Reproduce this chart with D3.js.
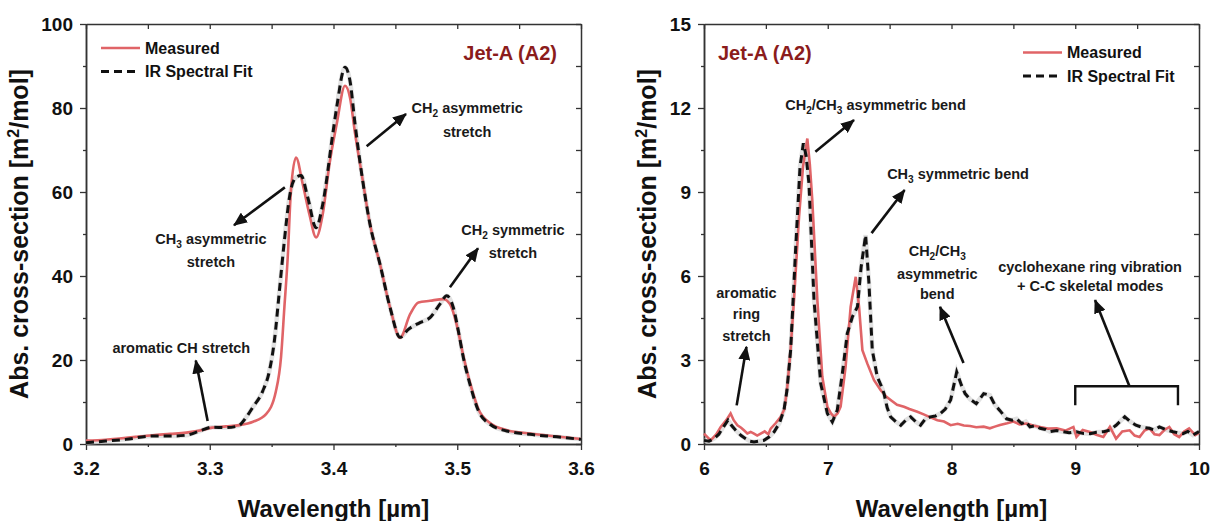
<!DOCTYPE html>
<html>
<head>
<meta charset="utf-8">
<script src="https://cdn.jsdelivr.net/npm/d3@7"></script>
<style>
  body { margin: 0; background: #fff; }
  svg text { font-family: "Liberation Sans", Arial, sans-serif; font-weight: bold; }
</style>
</head>
<body>
<svg id="chart" width="1212" height="521"></svg>
<script>
// ---- data ----
const seriesNames = ["Measured", "IR Spectral Fit"];
const sampleLabel = "Jet-A (A2)";

// C-H stretch region, 3.2 - 3.6 um
const chMeasuredX = [3.200,3.216,3.227,3.240,3.254,3.268,3.281,3.292,3.302,3.313,3.324,3.335,3.3455,3.3535,3.3576,3.3603,3.363,3.3656,3.3697,3.3751,3.3805,3.3859,3.3913,3.3967,3.4026,3.4093,3.4133,3.4174,3.4228,3.4295,3.4376,3.4457,3.4538,3.4619,3.4686,3.478,3.4888,3.4941,3.4995,3.5049,3.5103,3.5171,3.5265,3.540,3.5588,3.5804,3.600];
const chMeasuredY = [0.8,1.0,1.3,1.7,2.1,2.4,2.7,3.2,3.9,4.2,4.5,5.3,7.1,12.6,20.7,32.5,44.4,60.3,68.2,61.9,54.7,49.2,54.7,66.6,76.2,85.3,82.5,74.0,64.3,52.3,42.8,32.5,25.3,30.9,33.7,34.1,34.5,33.3,28.5,21.0,14.6,8.3,5.0,3.3,2.5,1.8,1.2];
const chFitX = [3.200,3.216,3.232,3.254,3.270,3.281,3.292,3.302,3.313,3.323,3.3293,3.3347,3.3428,3.3482,3.3522,3.3563,3.3603,3.3644,3.3697,3.3738,3.3792,3.3859,3.3913,3.3994,3.4026,3.4093,3.4133,3.4174,3.4228,3.4295,3.4376,3.4457,3.4538,3.4605,3.4699,3.478,3.486,3.4915,3.4968,3.5009,3.5049,3.5103,3.5171,3.5265,3.540,3.5588,3.5804,3.600];
const chFitY = [0.3,0.7,1.1,1.9,1.9,2.1,3.1,4.0,3.9,4.3,6.3,8.7,12.6,17.4,24.5,36.5,48.4,58.7,63.5,63.9,58.7,51.5,57.1,73.8,80.2,89.7,86.5,76.2,64.3,52.3,42.8,32.5,25.4,27.3,28.9,30.1,33.3,35.3,32.5,26.9,20.6,14.2,7.9,4.7,3.1,2.3,1.7,1.1];

// fingerprint region, 6 - 10 um
const fpMeasuredX = [6.000,6.054,6.100,6.135,6.180,6.215,6.240,6.270,6.300,6.323,6.350,6.377,6.404,6.430,6.458,6.490,6.520,6.539,6.580,6.620,6.650,6.673,6.700,6.727,6.768,6.800,6.835,6.855,6.875,6.916,6.956,6.997,7.025,7.050,7.080,7.104,7.144,7.185,7.226,7.253,7.280,7.320,7.374,7.428,7.470,7.508,7.560,7.616,7.660,7.724,7.780,7.830,7.886,7.940,7.993,8.050,8.100,8.150,8.200,8.260,8.310,8.350,8.392,8.450,8.500,8.550,8.607,8.660,8.715,8.780,8.850,8.920,8.985,9.010,9.060,9.120,9.170,9.227,9.280,9.330,9.380,9.440,9.480,9.520,9.560,9.600,9.640,9.680,9.720,9.760,9.800,9.840,9.880,9.920,9.970,10.000];
const fpMeasuredY = [0.37,0.13,0.35,0.61,0.85,1.09,0.85,0.67,0.58,0.49,0.38,0.43,0.37,0.30,0.37,0.45,0.35,0.55,0.75,0.97,1.25,2.04,3.4,5.14,8.11,9.9,10.91,10.0,8.71,5.14,2.40,1.33,1.10,0.97,1.10,1.33,2.75,4.90,5.97,4.90,3.35,2.87,2.28,1.92,1.70,1.57,1.40,1.33,1.25,1.15,1.05,0.95,0.85,0.80,0.67,0.72,0.66,0.64,0.60,0.62,0.56,0.62,0.68,0.74,0.80,0.70,0.73,0.66,0.61,0.55,0.56,0.48,0.61,0.25,0.50,0.43,0.33,0.25,0.61,0.19,0.45,0.49,0.30,0.25,0.48,0.56,0.35,0.32,0.50,0.61,0.35,0.25,0.45,0.56,0.32,0.40];
const fpFitX = [6.000,6.040,6.080,6.120,6.148,6.194,6.225,6.256,6.300,6.337,6.370,6.404,6.440,6.485,6.525,6.566,6.610,6.646,6.670,6.700,6.740,6.776,6.803,6.825,6.848,6.889,6.943,6.997,7.037,7.077,7.118,7.158,7.200,7.240,7.270,7.306,7.333,7.360,7.400,7.430,7.455,7.480,7.508,7.550,7.590,7.630,7.670,7.710,7.750,7.790,7.830,7.870,7.910,7.950,7.993,8.042,8.080,8.110,8.150,8.200,8.260,8.310,8.350,8.390,8.445,8.490,8.526,8.567,8.600,8.634,8.675,8.715,8.760,8.796,8.850,8.900,8.950,9.010,9.060,9.120,9.170,9.230,9.280,9.330,9.400,9.445,9.490,9.540,9.600,9.640,9.680,9.740,9.790,9.830,9.870,9.910,9.950,10.000];
const fpFitY = [0.13,0.10,0.19,0.35,0.55,0.85,0.65,0.49,0.30,0.19,0.10,0.07,0.10,0.13,0.25,0.43,0.75,1.21,1.9,3.35,6.92,9.9,10.74,10.3,9.31,5.14,2.16,1.09,0.79,1.21,2.52,3.95,4.55,4.90,6.33,7.46,5.73,3.35,2.40,2.10,1.80,1.30,0.97,0.80,0.67,0.85,0.97,0.80,0.67,0.90,0.97,1.00,1.09,1.25,1.57,2.57,2.10,1.80,1.60,1.44,1.80,1.74,1.40,1.20,0.90,0.85,0.90,0.73,0.80,0.61,0.65,0.56,0.52,0.44,0.48,0.44,0.40,0.44,0.38,0.37,0.42,0.44,0.50,0.67,0.97,0.80,0.67,0.60,0.56,0.50,0.61,0.50,0.44,0.40,0.37,0.45,0.32,0.44];

// tick labels
const chXTicks = [3.2, 3.3, 3.4, 3.5, 3.6];
const chYTicks = [0, 20, 40, 60, 80, 100];
const fpXTicks = [6, 7, 8, 9, 10];
const fpYTicks = [0, 3, 6, 9, 12, 15];

// band assignments: text lines (x, y in data units) and arrow (from -> to)
const chNotes = [
  { lines: ["CH_2 asymmetric", "stretch"], x: 3.508, y: [80.0, 74.2], arrow: [3.4268, 70.9, 3.4586, 78.6] },
  { lines: ["CH_3 asymmetric", "stretch"], x: 3.301, y: [48.8, 43.4], arrow: [3.3607, 61.1, 3.3196, 52.1] },
  { lines: ["CH_2 symmetric", "stretch"], x: 3.545, y: [50.9, 45.4], arrow: [3.4941, 37.3, 3.5168, 46.6] },
  { lines: ["aromatic CH stretch"], x: 3.277, y: [22.9], arrow: [3.2983, 5.5, 3.2887, 19.9] }
];
const fpNotes = [
  { lines: ["CH_2/CH_3 asymmetric bend"], x: 7.386, y: [12.1], arrow: [6.900, 10.44, 7.212, 11.57] },
  { lines: ["CH_3 symmetric bend"], x: 8.053, y: [9.64], arrow: [7.354, 7.53, 7.621, 9.07] },
  { lines: ["CH_2/CH_3", "asymmetric", "bend"], x: 7.885, y: [6.90, 6.07, 5.35], arrow: [8.097, 2.89, 7.907, 4.9] },
  { lines: ["aromatic", "ring", "stretch"], x: 6.343, y: [5.38, 4.64, 3.87], arrow: [6.264, 1.38, 6.343, 3.47] },
  { lines: ["cyclohexane ring vibration", "+ C-C skeletal modes"], x: 9.12, y: [6.33, 5.65], arrow: [9.438, 2.06, 9.160, 5.14] }
];
// bracket over 9.0 - 9.83 um
const fpBracket = { x0: 9.0, x1: 9.83, top: 2.06, bottom: 1.38 };

class SpectrumPanel {

  constructor(_config) {
    this.config = {
      parentElement: _config.parentElement,
      left: _config.left,
      top: 24,
      width: 495,
      height: 420,
      xDomain: _config.xDomain,
      yDomain: _config.yDomain,
      xTicks: _config.xTicks,
      yTicks: _config.yTicks,
      xFormat: _config.xFormat,
      yTitleX: _config.yTitleX,
      labelPos: _config.labelPos,
      legendPos: _config.legendPos,
      curve: _config.curve
    };
    this.measured = _config.measured;
    this.fit = _config.fit;
    this.notes = _config.notes;
    this.bracket = _config.bracket;
    this.initVis();
  }

  initVis() {
    let vis = this;
    let c = vis.config;

    vis.chart = d3.select(c.parentElement).append('g')
        .attr('transform', `translate(${c.left},${c.top})`);

    vis.xScale = d3.scaleLinear().domain(c.xDomain).range([0, c.width]);
    vis.yScale = d3.scaleLinear().domain(c.yDomain).range([c.height, 0]);

    // minor ticks halfway between the labelled ones
    vis.xMinor = d3.pairs(c.xTicks).map(p => (p[0] + p[1]) / 2);
    vis.yMinor = d3.pairs(c.yTicks).map(p => (p[0] + p[1]) / 2);

    let defs = vis.chart.append('defs');
    vis.markerId = 'arrow' + c.left;
    defs.append('marker')
        .attr('id', vis.markerId)
        .attr('markerUnits', 'userSpaceOnUse')
        .attr('viewBox', '0 0 14 12')
        .attr('markerWidth', 14)
        .attr('markerHeight', 12)
        .attr('refX', 13)
        .attr('refY', 6)
        .attr('orient', 'auto')
      .append('path')
        .attr('d', 'M0,0 L14,6 L0,12 Z')
        .attr('fill', '#111');

    this.render();
  }

  // "CH_2" style subscripts
  addRichText(sel, str, size) {
    let parts = str.split(/(_\d)/).filter(s => s.length);
    let shifted = false;
    parts.forEach(p => {
      if (p[0] === '_') {
        sel.append('tspan').attr('dy', size * 0.25).style('font-size', (size * 0.7) + 'px').text(p.slice(1));
        shifted = true;
      } else {
        let t = sel.append('tspan').text(p);
        if (shifted) { t.attr('dy', -size * 0.25); shifted = false; }
      }
    });
  }

  render() {
    let vis = this;
    let c = vis.config;
    let x = vis.xScale, y = vis.yScale;

    // axes: bottom / left labelled, top / right mirrored inward
    let styleAxis = g => {
      g.select('.domain').attr('stroke', '#333').attr('stroke-width', 1.5);
      g.selectAll('.tick line').attr('stroke', '#333').attr('stroke-width', 1.3);
      g.selectAll('text').style('font-size', '19px').attr('fill', '#111');
    };

    vis.chart.append('g').attr('transform', `translate(0,${c.height})`)
        .call(d3.axisBottom(x).tickValues(vis.xMinor).tickSize(3).tickSizeOuter(0).tickFormat(''))
        .call(styleAxis);
    vis.chart.append('g').attr('transform', `translate(0,${c.height})`)
        .call(d3.axisBottom(x).tickValues(c.xTicks).tickSize(6).tickSizeOuter(0).tickPadding(12).tickFormat(c.xFormat))
        .call(styleAxis);
    vis.chart.append('g')
        .call(d3.axisLeft(y).tickValues(vis.yMinor).tickSize(3).tickSizeOuter(0).tickFormat(''))
        .call(styleAxis);
    vis.chart.append('g')
        .call(d3.axisLeft(y).tickValues(c.yTicks).tickSize(6).tickSizeOuter(0).tickPadding(7).tickFormat(d3.format('d')))
        .call(styleAxis);
    vis.chart.append('g')
        .call(d3.axisTop(x).tickValues(c.xTicks.concat(vis.xMinor)).tickSize(-5).tickSizeOuter(0).tickFormat(''))
        .call(styleAxis);
    vis.chart.append('g').attr('transform', `translate(${c.width},0)`)
        .call(d3.axisRight(y).tickValues(c.yTicks.concat(vis.yMinor)).tickSize(-5).tickSizeOuter(0).tickFormat(''))
        .call(styleAxis);

    // axis titles
    vis.chart.append('text')
        .attr('x', c.width / 2)
        .attr('y', 493)
        .attr('text-anchor', 'middle')
        .style('font-size', '24px')
        .attr('fill', '#111')
        .text('Wavelength [\u00b5m]');

    let yt = vis.chart.append('text')
        .attr('transform', `translate(${c.yTitleX},${c.height / 2}) rotate(-90)`)
        .attr('text-anchor', 'middle')
        .style('font-size', '25px')
        .attr('fill', '#111');
    yt.append('tspan').text('Abs. cross-section [m');
    yt.append('tspan').attr('dy', -9).style('font-size', '16px').text('2');
    yt.append('tspan').attr('dy', 9).text('/mol]');

    // curves
    let line = d3.line()
        .x(d => x(d[0]))
        .y(d => y(d[1]))
        .curve(c.curve);

    vis.chart.append('path')
        .datum(vis.fit)
        .attr('fill', 'none')
        .attr('stroke', '#cfcfcf')
        .attr('stroke-width', 4.5)
        .attr('stroke-opacity', 0.6)
        .attr('d', line);

    vis.chart.append('path')
        .datum(vis.measured)
        .attr('fill', 'none')
        .attr('stroke', '#e06467')
        .attr('stroke-width', 2.6)
        .attr('d', line);

    vis.chart.append('path')
        .datum(vis.fit)
        .attr('fill', 'none')
        .attr('stroke', '#111')
        .attr('stroke-width', 3)
        .attr('stroke-dasharray', '8,5')
        .attr('d', line);

    // legend
    let lg = vis.chart.append('g')
        .attr('transform', `translate(${c.legendPos[0]},${c.legendPos[1]})`);
    let legendRows = lg.selectAll('g')
        .data(seriesNames)
      .join('g')
        .attr('transform', (d, i) => `translate(0,${i * 23.5})`);
    legendRows.append('line')
        .attr('x1', 0).attr('x2', 39)
        .attr('stroke', (d, i) => i === 0 ? '#e06467' : '#111')
        .attr('stroke-width', (d, i) => i === 0 ? 2.6 : 3)
        .attr('stroke-dasharray', (d, i) => i === 0 ? null : '8,5');
    legendRows.append('text')
        .attr('x', 44)
        .attr('dy', '0.35em')
        .style('font-size', '16px')
        .attr('fill', '#111')
        .text(d => d);

    // sample label
    vis.chart.append('text')
        .attr('x', c.labelPos[0])
        .attr('y', c.labelPos[1])
        .attr('text-anchor', c.labelPos[2])
        .attr('dy', '0.35em')
        .style('font-size', '20px')
        .attr('fill', '#8b1c1c')
        .text(sampleLabel);

    // annotations
    vis.notes.forEach(n => {
      n.lines.forEach((ln, i) => {
        let t = vis.chart.append('text')
            .attr('x', x(n.x))
            .attr('y', y(n.y[i]))
            .attr('dy', '0.35em')
            .attr('text-anchor', 'middle')
            .style('font-size', '14.5px')
            .attr('fill', '#1a1a1a');
        vis.addRichText(t, ln, 14.5);
      });
      vis.chart.append('line')
          .attr('x1', x(n.arrow[0])).attr('y1', y(n.arrow[1]))
          .attr('x2', x(n.arrow[2])).attr('y2', y(n.arrow[3]))
          .attr('stroke', '#111')
          .attr('stroke-width', 2.6)
          .attr('marker-end', `url(#${vis.markerId})`);
    });

    if (vis.bracket) {
      let b = vis.bracket;
      vis.chart.append('path')
          .attr('d', `M${x(b.x0)},${y(b.bottom)} V${y(b.top)} H${x(b.x1)} V${y(b.bottom)}`)
          .attr('fill', 'none')
          .attr('stroke', '#111')
          .attr('stroke-width', 2.4);
    }
  }
}

const svg = '#chart';

new SpectrumPanel({
  parentElement: svg,
  left: 86,
  xDomain: [3.2, 3.6],
  yDomain: [0, 100],
  xTicks: chXTicks,
  yTicks: chYTicks,
  xFormat: d3.format('.1f'),
  yTitleX: -58,
  labelPos: [471, 29, 'end'],
  legendPos: [15, 24],
  curve: d3.curveMonotoneX,
  measured: chMeasuredX.map((v, i) => [v, chMeasuredY[i]]),
  fit: chFitX.map((v, i) => [v, chFitY[i]]),
  notes: chNotes
});

new SpectrumPanel({
  parentElement: svg,
  left: 704,
  xDomain: [6, 10],
  yDomain: [0, 15],
  xTicks: fpXTicks,
  yTicks: fpYTicks,
  xFormat: d3.format('d'),
  yTitleX: -48,
  labelPos: [14, 29, 'start'],
  legendPos: [319, 28.5],
  curve: d3.curveLinear,
  measured: fpMeasuredX.map((v, i) => [v, fpMeasuredY[i]]),
  fit: fpFitX.map((v, i) => [v, fpFitY[i]]),
  notes: fpNotes,
  bracket: fpBracket
});
</script>
</body>
</html>
